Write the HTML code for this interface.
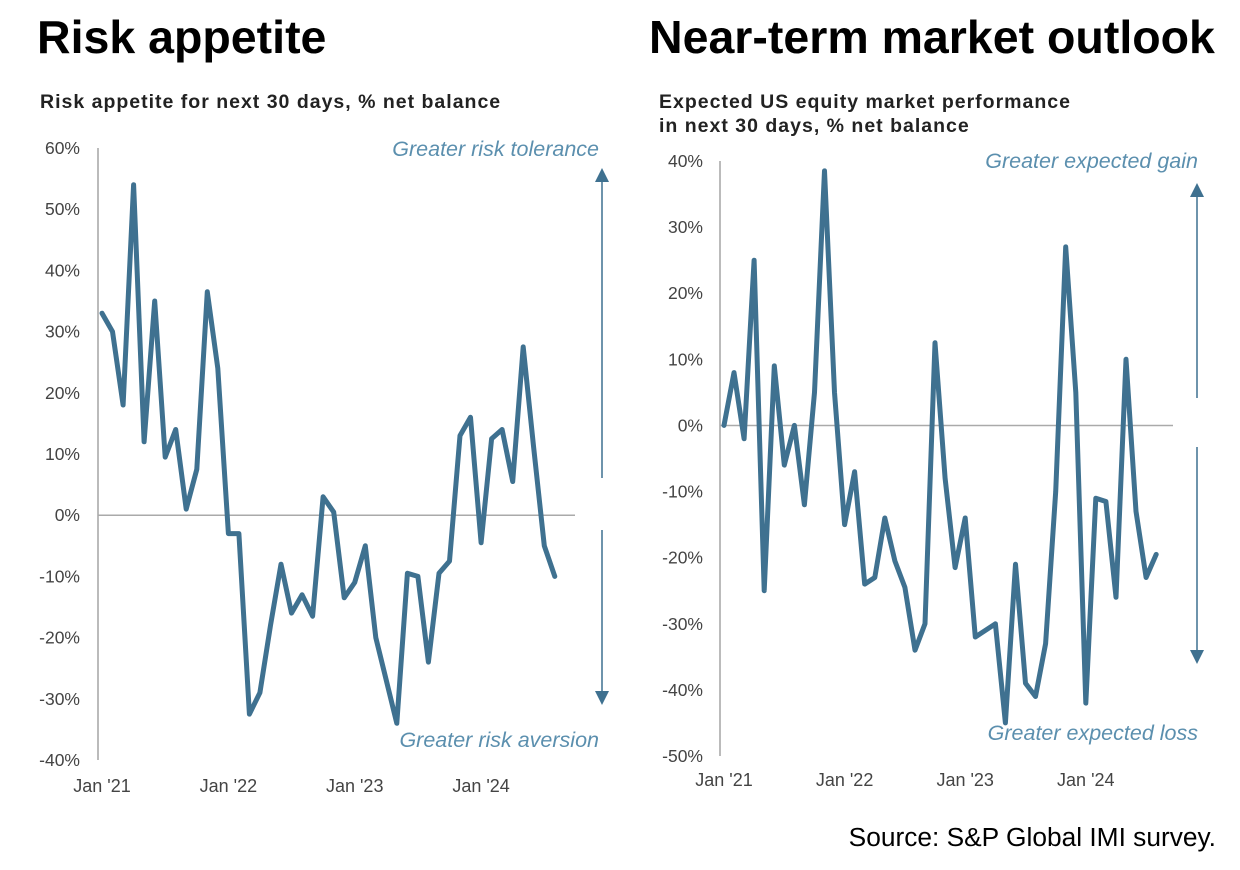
<!DOCTYPE html>
<html><head><meta charset="utf-8"><style>
body{margin:0;background:#fff;width:1240px;height:870px;overflow:hidden;font-family:"Liberation Sans",Arial,sans-serif;}
svg{display:block}
</style></head><body>
<svg id="root" width="1240" height="870" xmlns="http://www.w3.org/2000/svg">
<text x="37" y="53" font-size="46.5" font-weight="bold" fill="#000">Risk appetite</text>
<text x="649" y="53" font-size="46.5" font-weight="bold" fill="#000">Near-term market outlook</text>
<text x="40" y="108" font-size="19.5" font-weight="bold" letter-spacing="1" fill="#222">Risk appetite for next 30 days, % net balance</text>
<text x="659" y="108" font-size="19.5" font-weight="bold" letter-spacing="1" fill="#222">Expected US equity market performance</text>
<text x="659" y="132" font-size="19.5" font-weight="bold" letter-spacing="1" fill="#222">in next 30 days, % net balance</text>
<g id="left"></g>
<g id="right"></g>
<text x="1216" y="846" font-size="26.3" text-anchor="end" fill="#000">Source: S&amp;P Global IMI survey.</text>
</svg>
<script>
const leftValues=[33,30,18,54,12,35,9.5,14,1,7.5,36.5,24,-3,-3,-32.5,-29,-18,-8,-16,-13,-16.5,3,0.5,-13.5,-11,-5,-20,-27,-34,-9.5,-10,-24,-9.5,-7.5,13,16,-4.5,12.5,14,5.5,27.5,11,-5,-10];
const rightValues=[0,8,-2,25,-25,9,-6,0,-12,5,38.5,5,-15,-7,-24,-23,-14,-20.5,-24.5,-34,-30,12.5,-8,-21.5,-14,-32,-31,-30,-45,-21,-39,-41,-33,-10,27,5,-42,-11,-11.5,-26,10,-13,-23,-19.5];
const leftTicks=[60,50,40,30,20,10,0,-10,-20,-30,-40];
const rightTicks=[40,30,20,10,0,-10,-20,-30,-40,-50];
const xLabels=["Jan '21","Jan '22","Jan '23","Jan '24"];
const xLabelIndex=[0,12,24,36];
const NS="http://www.w3.org/2000/svg";
function mk(g,tag,attrs){const e=document.createElementNS(NS,tag);for(const k in attrs)e.setAttribute(k,attrs[k]);g.appendChild(e);return e;}
function draw(cfg){
  const g=document.getElementById(cfg.id);
  const y=v=>cfg.y0+(cfg.max-v)*(cfg.y1-cfg.y0)/(cfg.max-cfg.min);
  const x=i=>cfg.x0+i*cfg.dx;
  cfg.ticks.forEach(t=>{
    const tx=mk(g,'text',{x:cfg.labelX,y:y(t)+6,'font-size':17.5,fill:'#444','text-anchor':'end'});
    tx.textContent=t+'%';
    
    
  });
  const ax=mk(g,'line',{x1:cfg.axisX,x2:cfg.axisX,y1:y(cfg.max),y2:y(cfg.min),stroke:'#bbb','stroke-width':2});
  
  
  const z=mk(g,'line',{x1:cfg.axisX,x2:cfg.zeroEnd,y1:y(0),y2:y(0),stroke:'#aaa','stroke-width':1.5});
  
  
  xLabels.forEach((l,k)=>{
    const t=mk(g,'text',{x:x(xLabelIndex[k]),y:cfg.xLabelY,'font-size':18,fill:'#444','text-anchor':'middle'});
    t.textContent=l;
    
    
  });
  const pts=cfg.values.map((v,i)=>x(i).toFixed(1)+','+y(v).toFixed(1)).join(' ');
  const p=mk(g,'polyline',{points:pts,fill:'none',stroke:'#3f7190','stroke-width':5,'stroke-linejoin':'round','stroke-linecap':'round'});
  
  
  const c='#3f7190';
  const a1=mk(g,'line',{x1:cfg.arX,x2:cfg.arX,y1:cfg.arUp[0]+10,y2:cfg.arUp[1],stroke:c,'stroke-width':1.5});
  
  
  const h1=mk(g,'polygon',{points:`${cfg.arX-7},${cfg.arUp[0]+12} ${cfg.arX+7},${cfg.arUp[0]+12} ${cfg.arX},${cfg.arUp[0]-2}`,fill:c});
  
  
  const a2=mk(g,'line',{x1:cfg.arX,x2:cfg.arX,y1:cfg.arDn[0],y2:cfg.arDn[1]-10,stroke:c,'stroke-width':1.5});
  
  
  const h2=mk(g,'polygon',{points:`${cfg.arX-7},${cfg.arDn[1]-12} ${cfg.arX+7},${cfg.arDn[1]-12} ${cfg.arX},${cfg.arDn[1]+2}`,fill:c});
  
  
  const t1=mk(g,'text',{x:cfg.annX,y:cfg.annTopY,'font-size':21.5,'font-style':'italic',fill:'#5b8fae','text-anchor':'end'});
  t1.textContent=cfg.annTop;
  
  
  const t2=mk(g,'text',{x:cfg.annX,y:cfg.annBotY,'font-size':21.5,'font-style':'italic',fill:'#5b8fae','text-anchor':'end'});
  t2.textContent=cfg.annBot;
  
  
}
draw({id:'left',values:leftValues,ticks:leftTicks,max:60,min:-40,y0:148,y1:760,x0:102,dx:10.53,labelX:80,axisX:98,zeroEnd:575,xLabelY:792,
  arX:602,arUp:[170,478],arDn:[530,703],annX:599,annTopY:156,annBotY:747,annTop:'Greater risk tolerance',annBot:'Greater risk aversion'});
draw({id:'right',values:rightValues,ticks:rightTicks,max:40,min:-50,y0:161,y1:756,x0:724,dx:10.05,labelX:703,axisX:720,zeroEnd:1173,xLabelY:786,
  arX:1197,arUp:[185,398],arDn:[447,662],annX:1198,annTopY:168,annBotY:740,annTop:'Greater expected gain',annBot:'Greater  expected loss'});
</script>
</body></html>
